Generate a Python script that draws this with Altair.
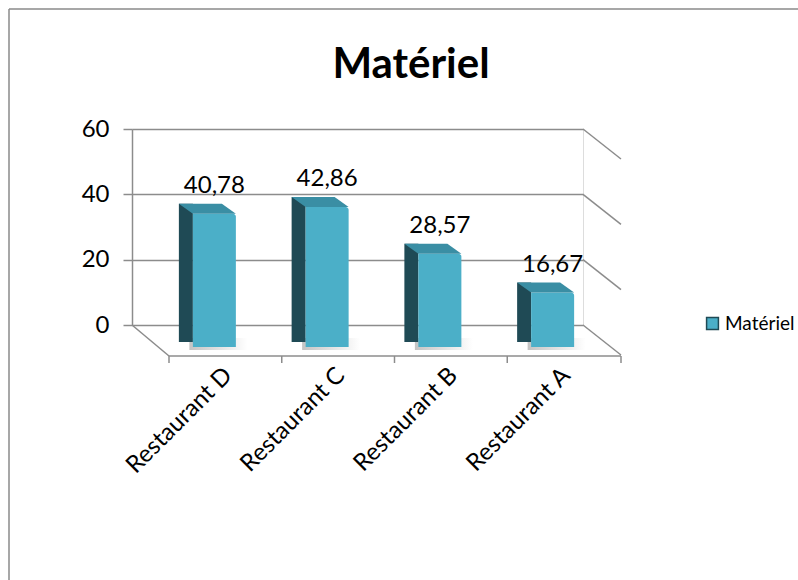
import altair as alt
import pandas as pd

# ---- data ----
categories = ["Restaurant D", "Restaurant C", "Restaurant B", "Restaurant A"]
values = [40.78, 42.86, 28.57, 16.67]
value_labels = ["40,78", "42,86", "28,57", "16,67"]
y_ticks = [0, 20, 40, 60]
series_name = "Matériel"
chart_title = "Matériel"

df = pd.DataFrame({"cat": categories, "val": values, "lab": value_labels,
                   "series": [series_name] * len(categories)})
ticks_df = pd.DataFrame({"t": y_ticks})
zero_df = pd.DataFrame({"z": [0]})

# ---- style ----
W, H = 451, 196
FONT = "Lato"
GRID = "#8c8c8c"
FRONT = "#4bafc8"
SIDE = "#1f4a55"
TOP = "#3a8ea4"
DX, DY = 37, 31          # floor depth
BX = 26                  # bar front-face shift from band centre
BY = 22                  # bar front-face baseline shift

xs = alt.Scale(domain=categories, paddingInner=0, paddingOuter=0)
ys = alt.Scale(domain=[0, 60], nice=False, zero=True)
X = alt.X("cat:N", sort=categories, scale=xs, axis=None)
Y = alt.Y("val:Q", scale=ys,
          axis=alt.Axis(values=y_ticks, grid=True, gridColor=GRID, gridWidth=1.5,
                        domainColor=GRID, domainWidth=1.5, tickColor=GRID,
                        tickWidth=1.5, tickSize=9, labelFont=FONT, labelFontSize=24,
                        labelColor="black", labelPadding=14, title=None))

base = alt.Chart(df)

# floor lines
floor_left = alt.Chart(zero_df).mark_rule(color=GRID, strokeWidth=1.5, y2Offset=DY).encode(
    x=alt.value(0), x2=alt.value(DX), y=alt.Y("z:Q", scale=ys), y2="z:Q")
floor_front = alt.Chart(zero_df).mark_rule(color=GRID, strokeWidth=1.5, yOffset=DY).encode(
    x=alt.value(DX), x2=alt.value(W + DX + 1), y=alt.Y("z:Q", scale=ys))
right_diag = alt.Chart(ticks_df).mark_rule(color=GRID, strokeWidth=1.5, y2Offset=DY - 1).encode(
    x=alt.value(W), x2=alt.value(W + DX + 1), y=alt.Y("t:Q", scale=ys), y2="t:Q")
front_ticks = base.mark_rule(color=GRID, strokeWidth=1.5, yOffset=DY, y2Offset=DY + 7, xOffset=DX).encode(
    x=alt.X("cat:N", sort=categories, scale=xs, axis=None, bandPosition=0),
    y=alt.datum(0), y2=alt.datum(0))
last_tick = alt.Chart(zero_df).mark_rule(color=GRID, strokeWidth=1.5, yOffset=DY, y2Offset=DY + 7).encode(
    x=alt.value(W + DX + 1), y=alt.Y("z:Q", scale=ys), y2="z:Q")

# soft floor shadow behind each bar
shadow_grad = alt.Gradient(gradient="linear", x1=0, x2=1, y1=0, y2=0,
                           stops=[alt.GradientStop(offset=0, color="#b5b5b5"),
                                  alt.GradientStop(offset=1, color="#ffffff")])
shadow = base.mark_bar(color=shadow_grad, width=58, xOffset=BX + 4, yOffset=BY - 9,
                       y2Offset=BY + 3, opacity=0.8).encode(x=X, y=alt.datum(0), y2=alt.datum(0))

# bars: dark side, front face, top face
side = base.mark_bar(color=SIDE, width=14, xOffset=BX - 21.5 - 7, yOffset=BY - 10,
                     y2Offset=BY - 5).encode(x=X, y=Y, y2=alt.datum(0))
front = base.mark_bar(width=43, xOffset=BX, yOffset=BY, y2Offset=BY,
                      cornerRadiusTopRight=3, cornerRadiusTopLeft=1).encode(
    x=X, y=Y, y2=alt.datum(0),
    color=alt.Color("series:N", scale=alt.Scale(range=[FRONT]),
                    legend=alt.Legend(orient="none", legendX=571, legendY=185, title=None,
                                      symbolType="square", symbolSize=140,
                                      symbolStrokeColor=SIDE, symbolStrokeWidth=1.5,
                                      labelFont=FONT, labelFontSize=19, labelColor="black",
                                      labelOffset=3, labelLimit=200)))
top_face = base.mark_point(shape="M -21.5 0 L 21.5 0 L 7.5 -10 L -35.5 -10 Z", size=4,
                           filled=True, opacity=1, color=TOP, strokeWidth=0,
                           xOffset=BX, yOffset=BY).encode(x=X, y=Y)

value_text = base.mark_text(font=FONT, fontSize=24, color="black", baseline="middle",
                            xOffset=BX, yOffset=BY - 28).encode(x=X, y=Y, text="lab:N")

cat_text = base.mark_text(font=FONT, fontSize=24, color="black", angle=315, align="right",
                          baseline="middle", xOffset=DX + 3, yOffset=DY + 16).encode(
    x=X, y=alt.datum(0), text="cat:N")

title_text = alt.Chart(zero_df).mark_text(text=chart_title, font=FONT, fontSize=42,
                                          fontWeight="bold", color="black",
                                          baseline="alphabetic").encode(
    x=alt.value(279), y=alt.value(-51))

border_left = alt.Chart(zero_df).mark_rule(color="#8a8a8a", strokeWidth=1.5).encode(
    x=alt.value(-123), y=alt.value(-120), y2=alt.value(470))
border_top = alt.Chart(zero_df).mark_rule(color="#8a8a8a", strokeWidth=1.5).encode(
    x=alt.value(-123), x2=alt.value(700), y=alt.value(-120))

chart = alt.layer(
    border_left, border_top, title_text,
    floor_left, floor_front, right_diag, front_ticks, last_tick,
    shadow, side, front, top_face, value_text, cat_text
).properties(
    width=W, height=H,
    autosize=alt.AutoSizeParams(type="none"),
    padding={"left": 132, "top": 129, "right": 215, "bottom": 255},
).configure_view(stroke=None).configure(background="white")

chart.save("out.html", embed_options={"renderer": "svg", "actions": False})
